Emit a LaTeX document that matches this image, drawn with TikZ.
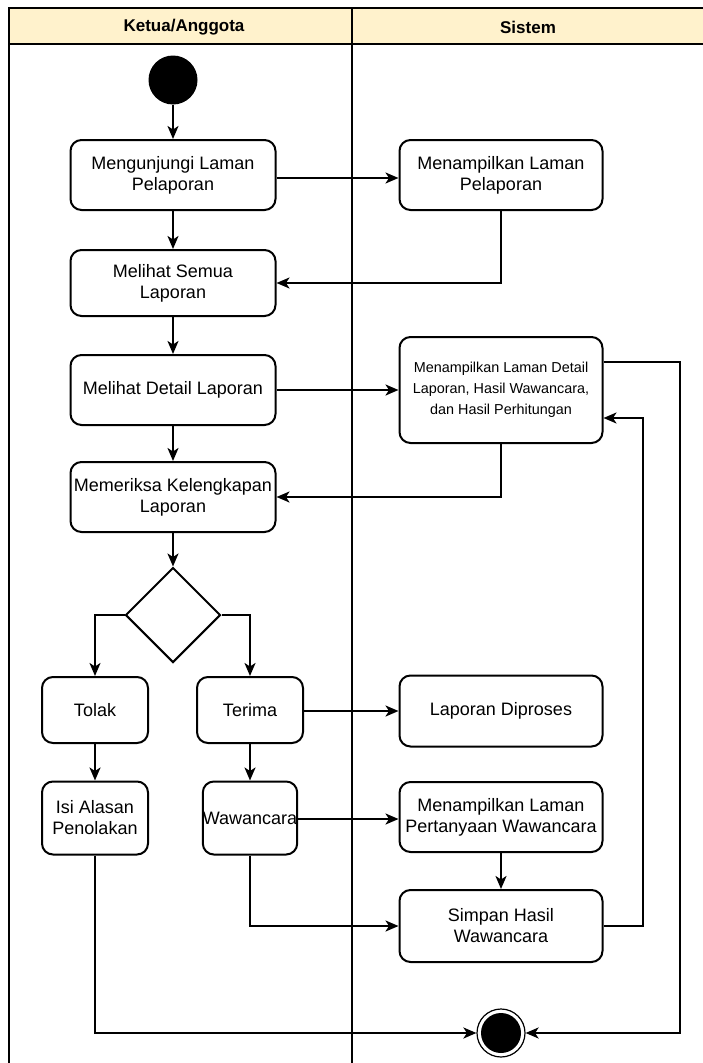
\documentclass[tikz,border=0pt]{standalone}
\usepackage{fontspec}
\setmainfont{Liberation Sans}
\usetikzlibrary{arrows.meta,shapes.geometric}
\definecolor{hdr}{HTML}{FFF2CC}
\begin{document}
\begin{tikzpicture}[x=1pt,y=-1pt,
  act/.style={draw,line width=2pt,rounded corners=11pt,align=center,font=\fontsize{18}{21}\selectfont,inner sep=0pt},
  arr/.style={line width=2pt,-{Stealth[length=13pt,width=11pt,inset=3.5pt]}},
  ln/.style={line width=2pt}]
\useasboundingbox (0,0) rectangle (703,1063);
% swimlanes
\draw[line width=2pt,fill=hdr] (9,8) rectangle (710,44);
\draw[line width=2pt] (9,44) -- (9,1070);
\draw[line width=2pt] (352,8) -- (352,1070);
\node[font=\bfseries\fontsize{17}{20}\selectfont] (h1) at (184,27) {Ketua/Anggota};
\node[font=\bfseries\fontsize{17}{20}\selectfont] (h2) at (528,27) {Sistem};
% nodes
\node[circle,fill=black,minimum size=49pt,inner sep=0pt] (start) at (173,80) {};
\node[act,minimum width=205pt,minimum height=70pt] (a1) at (173,175) {Mengunjungi Laman\\Pelaporan};
\node[act,minimum width=203pt,minimum height=70pt] (s1) at (501,175) {Menampilkan Laman\\Pelaporan};
\node[act,minimum width=205pt,minimum height=66pt] (a2) at (173,283) {Melihat Semua\\Laporan};
\node[act,minimum width=205pt,minimum height=70pt] (a3) at (173,390) {Melihat Detail Laporan};
\node[act,minimum width=203pt,minimum height=106pt,font=\fontsize{14.4}{21}\selectfont] (s2) at (501,390) {Menampilkan Laman Detail\\Laporan, Hasil Wawancara,\\dan Hasil Perhitungan};
\node[act,minimum width=205pt,minimum height=70pt] (a4) at (173,497) {Memeriksa Kelengkapan\\Laporan};
\node[diamond,draw,line width=2pt,minimum width=95pt,minimum height=95pt,inner sep=0pt] (d) at (173,615) {};
\node[act,minimum width=106pt,minimum height=66pt] (tolak) at (95,710) {Tolak};
\node[act,minimum width=106pt,minimum height=66pt] (terima) at (250,710) {Terima};
\node[act,minimum width=203pt,minimum height=71pt] (s3) at (501,711) {Laporan Diproses};
\node[act,minimum width=106pt,minimum height=73pt] (isi) at (95,818) {Isi Alasan\\Penolakan};
\node[act,minimum width=94pt,minimum height=73pt] (waw) at (250,818) {Wawancara};
\node[act,minimum width=203pt,minimum height=70pt] (s4) at (501,817) {Menampilkan Laman\\Pertanyaan Wawancara};
\node[act,minimum width=203pt,minimum height=72pt] (s5) at (501,926) {Simpan Hasil\\Wawancara};
\node[circle,draw,line width=1.2pt,minimum size=48pt,inner sep=0pt] (end) at (501,1033) {};
\node[circle,fill=black,minimum size=40pt,inner sep=0pt] (endin) at (501,1033) {};
% coordinates
\coordinate (c1) at (501,283);
\coordinate (c2) at (501,497);
\coordinate (c3) at (95,615);
\coordinate (c4) at (250,615);
\coordinate (c5) at (250,926);
\coordinate (c6) at (643,926);
\coordinate (c7) at (643,418);
\coordinate (c8) at (680,362);
\coordinate (c9) at (680,1033);
\coordinate (c10) at (95,1033);
% connectors
\draw[arr] (start) -- (a1);
\draw[arr] (a1.east |- 0,178) -- (s1.west |- 0,178);
\draw[arr] (a1) -- (a2);
\draw[arr] (s1.south) -- (c1) -- (a2.east);
\draw[arr] (a2) -- (a3);
\draw[arr] (a3) -- (s2);
\draw[arr] (a3) -- (a4);
\draw[arr] (s2.south) -- (c2) -- (a4.east);
\draw[arr] (a4) -- (d);
\draw[arr] (d.west) -- (c3) -- (tolak.north);
\draw[arr] (d.east) -- (c4) -- (terima.north);
\draw[arr] (terima.east |- s3) -- (s3.west);
\draw[arr] (tolak) -- (isi);
\draw[arr] (terima) -- (waw);
\draw[arr] (waw.east |- 0,819) -- (s4.west |- 0,819);
\draw[arr] (s4) -- (s5);
\draw[arr] (waw.south) -- (c5) -- (s5.west);
\draw[arr] (s5.east) -- (c6) -- (c7) -- (s2.east |- c7);
\draw[arr] (s2.east |- c8) -- (c8) -- (c9) -- (end.east);
\draw[arr] (isi.south) -- (c10) -- (end.west);
\end{tikzpicture}
\end{document}
